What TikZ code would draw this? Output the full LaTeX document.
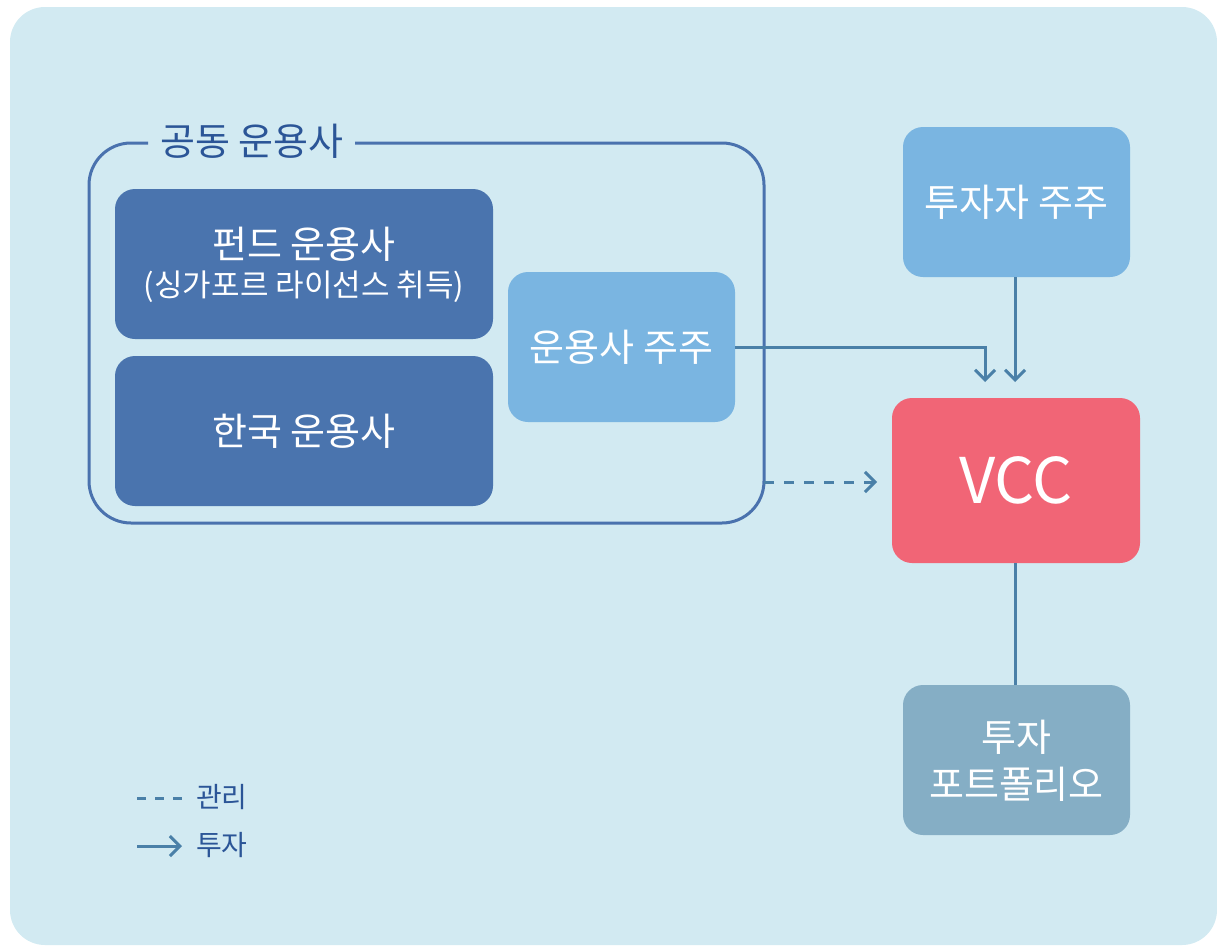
\documentclass[tikz,border=0pt]{standalone}
\usepackage{fontspec}
\setmainfont{Noto Sans CJK KR}
\usetikzlibrary{arrows.meta}
\definecolor{bgc}{HTML}{D2EAF2}
\definecolor{grpc}{HTML}{4A72AE}
\definecolor{titlec}{HTML}{2B5597}
\definecolor{darkc}{HTML}{4A74AE}
\definecolor{lightc}{HTML}{7AB5E1}
\definecolor{vccc}{HTML}{F16576}
\definecolor{portc}{HTML}{85AEC5}
\definecolor{arrc}{HTML}{4A80A8}
\tikzset{
  x=1pt, y=-1pt,
  boxst/.style={rounded corners=20pt, text=white, align=center, inner sep=0pt},
  conn/.style={draw=arrc, line width=3pt},
  tip/.style={-{Straight Barb[length=10pt,width=20pt,line width=3pt]}},
}
\begin{document}
\begin{tikzpicture}
\useasboundingbox (0,0) rectangle (1217,945);
\fill[bgc, rounded corners=35pt] (10,7) rectangle (1217,945);
% group box
\draw[grpc, line width=3pt, rounded corners=42pt] (148,143) -- (89,143) -- (89,523) -- (764,523) -- (764,143) -- (355,143);
\node[text=titlec, font=\fontsize{38}{44}\selectfont, anchor=center] (title) at (252,141) {공동 운용사};
% boxes
\node[boxst, fill=darkc, minimum width=378pt, minimum height=150pt] (fund) at (304,264) {};
\node[text=white, font=\fontsize{38}{44}\selectfont] (fundt) at (304,244) {펀드 운용사};
\node[text=white, font=\fontsize{31}{36}\selectfont] (fundt2) at (304,287) {(싱가포르 라이선스 취득)};
\node[boxst, fill=darkc, minimum width=378pt, minimum height=150pt, font=\fontsize{38}{44}\selectfont] (korea) at (304,431) {한국 운용사};
\node[boxst, fill=lightc, minimum width=227pt, minimum height=150pt, font=\fontsize{38}{44}\selectfont] (mgrsh) at (621.5,347) {운용사 주주};
\node[boxst, fill=lightc, minimum width=227pt, minimum height=150pt, font=\fontsize{38}{44}\selectfont] (invsh) at (1016.5,202) {투자자 주주};
\node[boxst, fill=vccc, minimum width=248pt, minimum height=165pt, font=\fontsize{63}{70}\selectfont] (vcc) at (1016,480.5) {VCC};
\node[boxst, fill=portc, minimum width=227pt, minimum height=150pt] (port) at (1016.5,760) {};
\node[text=white, font=\fontsize{38}{44}\selectfont] (portt1) at (1016.5,737) {투자};
\node[text=white, font=\fontsize{38}{44}\selectfont] (portt2) at (1016.5,784) {포트폴리오};
% connectors
\coordinate (a1) at (985,382);
\coordinate (a2) at (1015,382);
\coordinate (gr) at (764,482);
\coordinate (dend) at (877,482);
\draw[conn, tip] (mgrsh.east) -| (a1);
\draw[conn, tip] (invsh.south -| a2) -- (a2);
\draw[conn, tip, dash pattern=on 10pt off 10pt] (gr) -- (dend);
\draw[conn] (vcc.south -| a2) -- (port.north -| a2);
% legend
\coordinate (l1a) at (137,798);
\coordinate (l1b) at (182,798);
\coordinate (l2a) at (137,846);
\coordinate (l2b) at (182,846);
\draw[conn, dash pattern=on 9pt off 9pt] (l1a) -- (l1b);
\draw[conn, tip] (l2a) -- (l2b);
\node[text=titlec, anchor=west, inner sep=0pt, font=\fontsize{28}{32}\selectfont] (lg1) at (196,797) {관리};
\node[text=titlec, anchor=west, inner sep=0pt, font=\fontsize{28}{32}\selectfont] (lg2) at (196,845) {투자};
\end{tikzpicture}
\end{document}
